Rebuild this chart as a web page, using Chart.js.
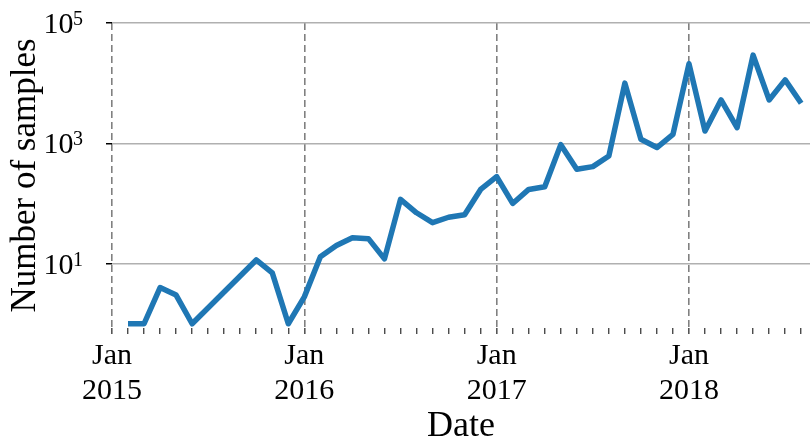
<!DOCTYPE html>
<html>
<head>
<meta charset="utf-8">
<script src="https://cdn.jsdelivr.net/npm/chart.js@4"></script>
<style>
  html, body { margin: 0; padding: 0; background: #fff; }
  #wrap { width: 811px; height: 448px; }
</style>
</head>
<body>
<div id="wrap"><canvas id="chart" width="811" height="448"></canvas></div>
<script>
// Monthly sample counts (null = no data for that month)
const months = [
    '2015-02', '2015-03', '2015-04', '2015-05', '2015-06', '2015-07', '2015-08', '2015-09', '2015-10', '2015-11', '2015-12',
    '2016-01', '2016-02', '2016-03', '2016-04', '2016-05', '2016-06', '2016-07', '2016-08', '2016-09', '2016-10', '2016-11', '2016-12',
    '2017-01', '2017-02', '2017-03', '2017-04', '2017-05', '2017-06', '2017-07', '2017-08', '2017-09', '2017-10', '2017-11', '2017-12',
    '2018-01', '2018-02', '2018-03', '2018-04', '2018-05', '2018-06', '2018-07', '2018-08'
];
const samples = [
    1, 1, 4, 3, 1, null, null, null, 11.5, 7, 1,
    2.8, 13, 20, 27, 26, 12, 117, 70, 48, 59, 65, 171,
    280, 100, 171, 190, 950, 370, 410, 615, 10000, 1170, 850, 1410,
    21000, 1600, 5260, 1820, 29300, 5260, 11350, 4640
];
const yTicks = [10, 1000, 100000];
const yExponents = ['1', '3', '5'];
const startYear = 2015;

function monthIndex(str) {
    const [y, m] = str.split('-').map(Number);
    return (y - startYear) * 12 + (m - 1);
}

const points = months.map((m, i) => ({ x: monthIndex(m), y: samples[i] }));
const lastMonth = monthIndex(months[months.length - 1]);

const serif = 'Liberation Serif';

// draws "10" with a raised exponent next to each y tick
const powerLabels = {
    id: 'powerLabels',
    afterDraw(chart) {
        const scale = chart.scales.y;
        const ctx = chart.ctx;
        ctx.save();
        ctx.fillStyle = '#000';
        ctx.textAlign = 'right';
        ctx.textBaseline = 'alphabetic';
        yTicks.forEach((v, i) => {
            const y = scale.getPixelForValue(v);
            const right = 83;
            ctx.font = `20px "${serif}"`;
            const w = ctx.measureText(yExponents[i]).width;
            ctx.fillText(yExponents[i], right, y + 2);
            ctx.font = `30px "${serif}"`;
            ctx.fillText('10', right - w + 0.5, y + 10);
        });
        ctx.restore();
    }
};

new Chart(document.getElementById('chart').getContext('2d'), {
    type: 'line',
    data: {
        datasets: [{
            data: points,
            borderColor: '#1f77b4',
            borderWidth: 5.5,
            borderJoinStyle: 'round',
            pointRadius: 0,
            tension: 0,
            spanGaps: true,
            fill: false
        }]
    },
    options: {
        responsive: false,
        animation: false,
        devicePixelRatio: 1,
        layout: { padding: { left: 0, right: 1, top: 23, bottom: 0 } },
        plugins: { legend: { display: false }, tooltip: { enabled: false } },
        scales: {
            x: {
                type: 'linear',
                min: 0,
                max: lastMonth + 0.55,
                afterBuildTicks: scale => {
                    const t = [];
                    for (let v = 0; v <= lastMonth; v++) t.push({ value: v });
                    scale.ticks = t;
                },
                afterFit: scale => { scale.height = 120; },
                border: { display: false, dash: [7, 4] },
                grid: {
                    color: ctx => (ctx.tick && ctx.tick.value % 12 === 0) ? '#808080' : 'rgba(0,0,0,0)',
                    lineWidth: 1.6,
                    tickColor: ctx => (ctx.tick && ctx.tick.value % 12 === 0) ? '#555' : '#000',
                    tickWidth: ctx => (ctx.tick && ctx.tick.value % 12 === 0) ? 1.6 : 1,
                    tickLength: 6,
                    drawTicks: true
                },
                ticks: {
                    autoSkip: false,
                    maxRotation: 0,
                    padding: 5,
                    color: '#000',
                    font: { family: serif, size: 30, lineHeight: 1.15 },
                    callback: v => v % 12 === 0 ? ['Jan', String(startYear + v / 12)] : ''
                },
                title: {
                    display: true,
                    text: 'Date',
                    color: '#000',
                    font: { family: serif, size: 36, lineHeight: 1.2 },
                    padding: { top: 0, bottom: 0 }
                }
            },
            y: {
                type: 'logarithmic',
                min: 0.85,
                max: 100000,
                afterBuildTicks: scale => {
                    scale.ticks = yTicks.map(v => ({ value: v }));
                },
                afterFit: scale => { scale.width = 112; },
                border: { display: false },
                grid: {
                    color: '#b0b0b0',
                    lineWidth: 1.5,
                    tickColor: '#000',
                    tickLength: 6
                },
                ticks: { display: false },
                title: {
                    display: true,
                    text: 'Number of samples',
                    color: '#000',
                    font: { family: serif, size: 35, lineHeight: 1.2 },
                    padding: { top: 5, bottom: 0 }
                }
            }
        }
    },
    plugins: [powerLabels]
});
</script>
</body>
</html>
